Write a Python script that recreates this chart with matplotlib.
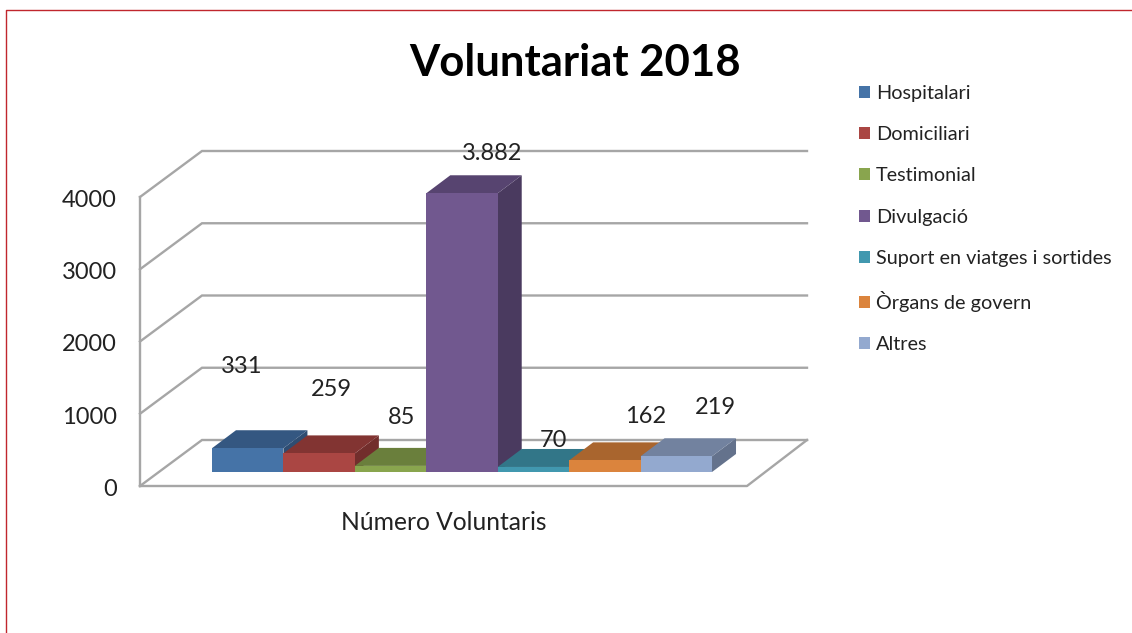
import matplotlib
matplotlib.use("Agg")
import matplotlib.pyplot as plt
from matplotlib.lines import Line2D
from matplotlib.patches import Patch

plt.rcParams['font.family'] = ['Lato', 'DejaVu Sans']

########## Data ##########
title = "Voluntariat 2018"
xlabel = "Número Voluntaris"
categories = ["Hospitalari", "Domiciliari", "Testimonial", "Divulgació",
              "Suport en viatges i sortides", "Òrgans de govern", "Altres"]
values = [331, 259, 85, 3882, 70, 162, 219]
yticks = [0, 1000, 2000, 3000, 4000]

########## Styles ##########
front = ["#4573A7", "#AA4643", "#89A54E", "#71588F", "#4198AF", "#DB843D", "#93A9CF"]
top = ["#345781", "#823432", "#6A7F3C", "#574470", "#327688", "#A9652E", "#72829F"]
side = ["#2F4D72", "#722E2C", "#5D7034", "#4A3A5F", "#2B6675", "#935828", "#64728C"]
# label offset from the bar's top centre, in pixels (the original has them dragged around)
label_off = [(-6, 82), (12, 64), (11, 48), (30, 40), (20, 26), (41, 44), (39, 49)]
grid_c = "#A6A6A6"
text_c = "#222222"

W, H = 1132, 633
BAR_PX = 71.43        # one category in pixels
UNIT_PX = 0.0718      # one value unit in pixels
X0_PX, Y0_PX = 212, 472   # left/bottom of the first bar front

fig = plt.figure(figsize=(W / 100, H / 100), dpi=100)
ax = fig.add_axes([0, 0, 1, 1])
ax.set_xlim(-0.5 - X0_PX / BAR_PX, -0.5 + (W - X0_PX) / BAR_PX)
ax.set_ylim(-(H - Y0_PX) / UNIT_PX, Y0_PX / UNIT_PX)
ax.axis("off")

# offsets for the fake 3d look
bar_dx, bar_dy = 24 / BAR_PX, 18 / UNIT_PX
wall_dx, wall_dy = 62 / BAR_PX, 46 / UNIT_PX
wall_x = -0.5 + (140 - X0_PX) / BAR_PX
wall_xr = -0.5 + (747 - X0_PX) / BAR_PX
base = -14 / UNIT_PX
wall_top = 289 / UNIT_PX / yticks[-1]   # walls are a bit taller than the bars' scale

########## Walls ##########
for t in yticks:
    y = base + t * wall_top
    ax.plot([wall_x, wall_x + wall_dx, wall_xr + wall_dx - 2 / BAR_PX],
            [y, y + wall_dy, y + wall_dy], color=grid_c, lw=1.7, solid_joinstyle="miter", zorder=1)
    ax.text(wall_x - 23 / BAR_PX, y - 1 / UNIT_PX - t / 4000 * 0 - 2.5 / UNIT_PX, str(t), ha="right", va="center",
            fontsize=17, color=text_c)
ax.plot([wall_x, wall_x], [base, base + yticks[-1] * wall_top], color=grid_c, lw=1.7, zorder=1)
ax.plot([wall_x, wall_xr, wall_xr + wall_dx - 2 / BAR_PX], [base, base, base + wall_dy],
        color=grid_c, lw=1.7, zorder=1)

########## Bars ##########
for i, v in enumerate(values):
    l, r = i - 0.5, i + 0.5
    z = 2 + i
    ax.fill([r, r + bar_dx, r + bar_dx, r], [0, bar_dy, v + bar_dy, v],
            color=side[i], lw=0, zorder=z)
    ax.fill([l, l + bar_dx, r + bar_dx, r], [v, v + bar_dy, v + bar_dy, v],
            color=top[i], lw=0, zorder=z)
    ax.bar(i, v, width=1, color=front[i], lw=0, zorder=z)

for i, v in enumerate(values):
    ax.annotate(f"{v:,}".replace(",", "."), (i, v), xytext=label_off[i],
                textcoords="offset pixels", ha="center", va="center",
                fontsize=17, color=text_c, zorder=20)

ax.text(3 - 0.25, -(522 - Y0_PX) / UNIT_PX, xlabel, ha="center", va="center",
        fontsize=17.7, color=text_c)
fig.text(575 / W, 1 - 63 / H, title, ha="center", va="center", fontsize=31.4,
         fontweight="bold", color="black")

########## Legend ##########
handles = [Patch(facecolor=c, edgecolor="none") for c in front]
ax.legend(handles, categories, loc="upper left", bbox_to_anchor=(859 / W, 1 - 85 / H),
          bbox_transform=fig.transFigure, frameon=False, fontsize=14.3,
          labelcolor=text_c, handlelength=0.55, handleheight=0.55, handletextpad=0.3,
          labelspacing=1.22, borderpad=0, borderaxespad=0)

########## Border ##########
fig.add_artist(Line2D([5.5 / W, 5.5 / W, 1], [0, 1 - 10 / H, 1 - 10 / H],
                      color="#C0262D", lw=1))

plt.savefig("out.png", dpi=100)
